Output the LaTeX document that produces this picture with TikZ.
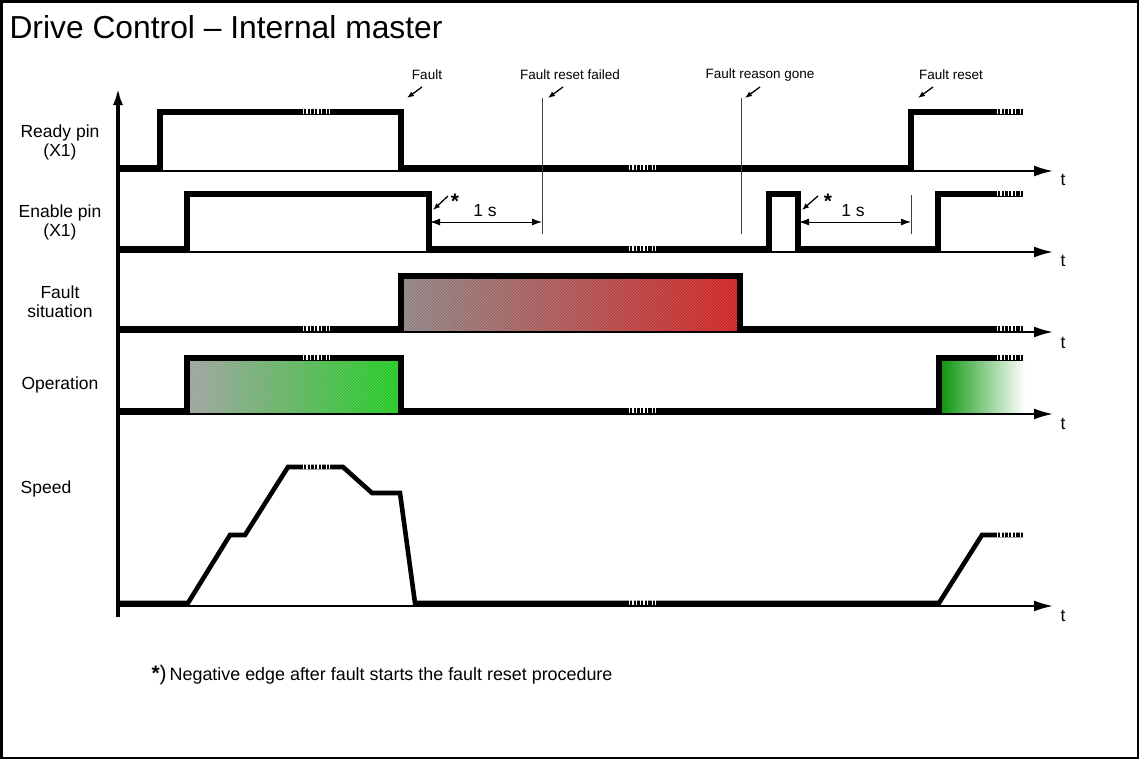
\documentclass[tikz,border=0pt]{standalone}
\usepackage{fontspec}
\setmainfont{Liberation Sans}
\usetikzlibrary{arrows.meta,patterns}
\definecolor{fltgray}{RGB}{138,128,128}
\definecolor{fltred}{RGB}{205,28,28}
\definecolor{opgray}{RGB}{155,160,155}
\definecolor{opgreen}{RGB}{28,200,28}
\definecolor{opdark}{RGB}{14,150,14}
% white ticks that mark a break in time on a thick signal line
\newcommand\tbreak[2]{%
  \foreach \d in {0.8,4.4,8.0,11.6,15.2,18.8,23.6,26.6}
    \fill[white] (#1+\d,#2-3.4) rectangle ++(1.4,5.2);}
\begin{document}
\begin{tikzpicture}[x=1pt,y=-1pt,
  sig/.style={line width=5.5pt, line join=miter, line cap=butt},
  spd/.style={line width=4.6pt, line join=miter, line cap=butt},
  taxis/.style={line width=2pt, -{Latex[length=19pt,width=11pt]}},
  lbl/.style={font=\fontsize{17.5}{19}\selectfont, align=center},
  tlbl/.style={font=\fontsize{17.5}{19}\selectfont},
  starlbl/.style={font=\fontsize{21}{21}\selectfont\bfseries},
  note/.style={font=\fontsize{13.5}{15}\selectfont},
  pointer/.style={line width=1.3pt, -{Latex[length=7pt,width=5.5pt]}},
  marker/.style={line width=1pt, black!75},
  dim/.style={line width=1pt, {Latex[length=10pt,width=7pt]}-{Latex[length=10pt,width=7pt]}},
  hatch/.style={pattern=north east lines, pattern color=white, opacity=0.25}]
\useasboundingbox (0,0) rectangle (1141,760);
\draw[line width=2.5pt] (1.5,1.5) rectangle (1138,758);

% title
\node[anchor=west, font=\fontsize{31.8}{34}\selectfont] (title) at (6,27) {Drive Control – Internal master};

% signal names
\node[lbl] (lready) at (60,142) {Ready pin\\(X1)};
\node[lbl] (lenable) at (60,222) {Enable pin\\(X1)};
\node[lbl] (lfault) at (60,302) {Fault\\situation};
\node[lbl] (lop) at (60,385) {Operation};
\node[lbl] (lspeed) at (46,489) {Speed};

% filled areas
\fill[left color=fltgray, right color=fltred] (403,279) rectangle (738,331);
\fill[hatch] (403,279) rectangle (738,331);
\fill[left color=opgray, right color=opgreen] (190,361) rectangle (398,413);
\fill[hatch] (190,361) rectangle (398,413);
\fill[left color=opdark, right color=white] (941,361) rectangle (1025,413);

% time axes
\coordinate (o) at (118,617);
\coordinate (ytip) at (118,88);
\draw[line width=3.5pt, -{Latex[length=17pt,width=10pt]}] (o) -- (ytip);
\foreach \name/\y/\ty in {ta/171/180, tb/252/261, tc/332/343, td/414/424, te/606/616}{
  \coordinate (\name s) at (118,\y);
  \coordinate (\name e) at (1053,\y);
  \draw[taxis] (\name s) -- (\name e);
  \node[tlbl] (\name t) at (1063,\ty) {t};
}

% signals
\draw[sig] (118,168) -- (160,168) -- (160,112) -- (401,112) -- (401,168)
  -- (911,168) -- (911,112) -- (1023,112);
\draw[sig] (118,249) -- (187,249) -- (187,194) -- (429,194) -- (429,249)
  -- (769,249) -- (769,194) -- (798,194) -- (798,249) -- (938,249)
  -- (938,194) -- (1023,194);
\draw[sig] (118,329) -- (401,329) -- (401,276) -- (740,276) -- (740,329)
  -- (1023,329);
\draw[sig] (118,411) -- (187,411) -- (187,358) -- (401,358) -- (401,411)
  -- (939,411) -- (939,358) -- (1023,358);
\draw[spd] (118,603) -- (188,603) -- (230,535) -- (245,535) -- (288,467)
  -- (343,467) -- (372,493) -- (400,493) -- (415,603) -- (939,603)
  -- (982,535) -- (1023,535);

% breaks in time
\tbreak{302}{112} \tbreak{628}{168} \tbreak{996}{112}
\tbreak{628}{249} \tbreak{996}{194}
\tbreak{302}{329} \tbreak{996}{329}
\tbreak{302}{358} \tbreak{628}{411} \tbreak{996}{358}
\tbreak{302}{467} \tbreak{628}{603} \tbreak{996}{535}

% event markers
\draw[marker] (542,98) -- (542,234);
\draw[marker] (741,98) -- (741,234);
\draw[marker] (911,195) -- (911,234);

% event labels with pointers
\node[note] (nfault) at (427,75) {Fault};
\node[note] (nfailed) at (570,75) {Fault reset failed};
\node[note] (ngone) at (760,75) {Fault reason gone};
\node[note] (nreset) at (951,75) {Fault reset};
\coordinate (pf) at (407,98);
\coordinate (pfl) at (548,98);
\coordinate (pg) at (745,98);
\coordinate (pr) at (918,98);
\draw[pointer] (422,87) -- (pf);
\draw[pointer] (563,87) -- (pfl);
\draw[pointer] (760,87) -- (pg);
\draw[pointer] (933,87) -- (pr);

% negative edges starting the reset
\node[starlbl] (star1) at (455,201) {*};
\node[starlbl] (star2) at (828,201) {*};
\coordinate (e1) at (433,210);
\coordinate (e2) at (802,210);
\draw[pointer] (448,196) -- (e1);
\draw[pointer] (818,196) -- (e2);

% 1 s delays
\coordinate (d1a) at (430,222);
\coordinate (d1b) at (542,222);
\coordinate (d2a) at (799,222);
\coordinate (d2b) at (911,222);
\draw[dim] (d1a) -- (d1b);
\draw[dim] (d2a) -- (d2b);
\node[tlbl] (s1) at (485,211) {1 s};
\node[tlbl] (s2) at (853,211) {1 s};

% footnote
\node[anchor=west, font=\fontsize{17.9}{19}\selectfont] (foot) at (148,675)
  {{\fontsize{21}{21}\selectfont\textbf{*})}\,Negative edge after fault starts the fault reset procedure};
\end{tikzpicture}
\end{document}
